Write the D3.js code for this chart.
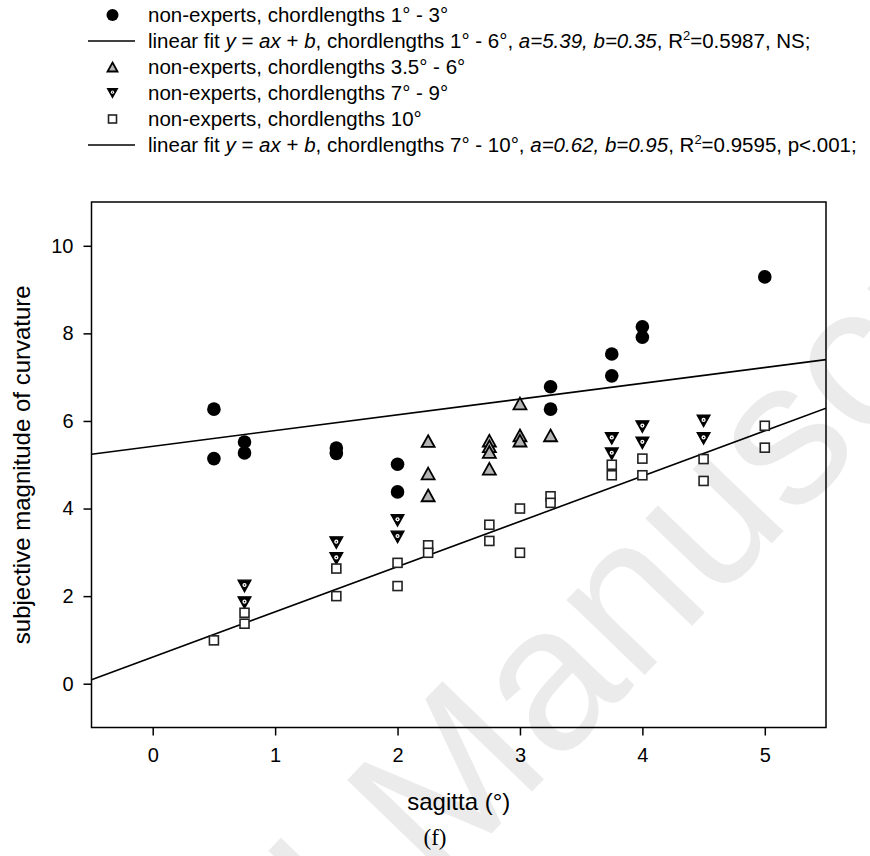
<!DOCTYPE html>
<html>
<head>
<meta charset="utf-8">
<script src="https://cdn.jsdelivr.net/npm/d3@7"></script>
<style>
  html, body { margin: 0; padding: 0; background: #fff; }
  svg { display: block; font-family: "Liberation Sans", Arial, sans-serif; }
</style>
</head>
<body>
<svg id="chart" width="870" height="856"></svg>
<script>
// ---- data ----
const circleX = [0.5, 0.5, 0.75, 0.75, 1.5, 1.5, 2, 2, 3.25, 3.25, 3.75, 3.75, 4, 4, 5];
const circleY = [6.27, 5.14, 5.52, 5.27, 5.38, 5.26, 5.01, 4.38, 6.78, 6.27, 7.53, 7.03, 8.15, 7.91, 9.29];

const triUpX = [2.25, 2.25, 2.25, 2.75, 2.75, 2.75, 2.75, 3, 3, 3, 3.25];
const triUpY = [5.54, 4.8, 4.3, 5.55, 5.42, 5.29, 4.91, 6.4, 5.67, 5.55, 5.67];

const triDownX = [0.75, 0.75, 1.5, 1.5, 2, 2, 3.75, 3.75, 4, 4, 4.5, 4.5];
const triDownY = [2.23, 1.85, 3.22, 2.86, 3.73, 3.35, 5.6, 5.25, 5.87, 5.5, 6.0, 5.6];

const squareX = [0.5, 0.75, 0.75, 1.5, 1.5, 2, 2, 2.25, 2.25, 2.75, 2.75, 3, 3, 3.25, 3.25, 3.75, 3.75, 4, 4, 4.5, 4.5, 5, 5];
const squareY = [0.99, 1.62, 1.37, 2.63, 2.0, 2.76, 2.23, 3.16, 2.99, 3.63, 3.26, 4.0, 2.99, 4.28, 4.13, 5.0, 4.76, 5.14, 4.76, 5.13, 4.63, 5.89, 5.39];

const fit1X = [-0.5, 5.5];
const fit1Y = [5.24, 7.40];
const fit2X = [-0.5, 5.5];
const fit2Y = [0.09, 6.29];

const xTicks = [0, 1, 2, 3, 4, 5];
const yTicks = [0, 2, 4, 6, 8, 10];
const xDomain = [-0.5, 5.5];
const yDomain = [-1, 11];

const xTitle = "sagitta (°)";
const yTitle = "subjective magnitude of curvature";
const panelLabel = "(f)";

// ---- layout ----
const svg = d3.select("#chart");
const L = 91.5, R = 826, T = 202, B = 727.5;
const x = d3.scaleLinear().domain(xDomain).range([L, R]);
const y = d3.scaleLinear().domain(yDomain).range([B, T]);

// watermark (faint, behind everything)
const wm = svg.append("g").attr("transform", "translate(437,890) rotate(-46)")
  .attr("fill", "#ebebeb").style("font-size", "205px");
wm.append("text").attr("x", -57).attr("text-anchor", "end").text("Accepted");
wm.append("text").attr("x", 0).text("Manuscript");

// axes
const xAxis = d3.axisBottom(x).tickValues(xTicks).tickSize(8).tickPadding(12).tickFormat(d3.format("d"));
const yAxis = d3.axisLeft(y).tickValues(yTicks).tickSize(8).tickPadding(10).tickFormat(d3.format("d"));

const gx = svg.append("g").attr("transform", `translate(0,${B})`).call(xAxis);
const gy = svg.append("g").attr("transform", `translate(${L},0)`).call(yAxis);
[gx, gy].forEach(g => {
  g.select(".domain").remove();
  g.selectAll(".tick line").attr("stroke", "#000").attr("stroke-width", 1.5);
  g.selectAll(".tick text").attr("fill", "#000").style("font-size", "20px")
    .style("font-family", "'Liberation Sans', Arial, sans-serif");
});

// frame
svg.append("rect").attr("x", L).attr("y", T).attr("width", R - L).attr("height", B - T)
  .attr("fill", "none").attr("stroke", "#000").attr("stroke-width", 1.5);

// clip
svg.append("clipPath").attr("id", "clip").append("rect")
  .attr("x", L).attr("y", T).attr("width", R - L).attr("height", B - T);

const plot = svg.append("g");

// fit lines
const line = d3.line().x(d => x(d[0])).y(d => y(d[1]));
[[fit1X, fit1Y], [fit2X, fit2Y]].forEach(([fx, fy]) => {
  plot.append("path").datum(fx.map((v, i) => [v, fy[i]]))
    .attr("d", line).attr("fill", "none").attr("stroke", "#000").attr("stroke-width", 1.6)
    .attr("clip-path", "url(#clip)");
});

// marker helpers
function triUpPath(s) { const h = s * 0.9; return `M0,${-h/2} L${s/2},${h/2} L${-s/2},${h/2} Z`; }
function triDownPath(s) { const h = s * 0.9; return `M0,${h/2} L${s/2},${-h/2} L${-s/2},${-h/2} Z`; }

function drawCircle(g, cx, cy, r) {
  g.append("circle").attr("cx", cx).attr("cy", cy).attr("r", r).attr("fill", "#000");
}
function drawTriUp(g, cx, cy, s) {
  g.append("path").attr("transform", `translate(${cx},${cy})`).attr("d", triUpPath(s))
    .attr("fill", "#b4b4b4").attr("stroke", "#000").attr("stroke-width", 1.8).attr("stroke-linejoin", "miter");
}
function drawTriDown(g, cx, cy, s) {
  g.append("path").attr("transform", `translate(${cx},${cy})`).attr("d", triDownPath(s))
    .attr("fill", "#000").attr("stroke", "#000").attr("stroke-width", 1.2);
  g.append("circle").attr("cx", cx).attr("cy", cy - s * 0.08).attr("r", s * 0.16).attr("fill", "#fff");
  g.append("circle").attr("cx", cx).attr("cy", cy - s * 0.08).attr("r", s * 0.06).attr("fill", "#000");
}
function drawSquare(g, cx, cy, s) {
  g.append("rect").attr("x", cx - s/2).attr("y", cy - s/2).attr("width", s).attr("height", s)
    .attr("fill", "#fff").attr("stroke", "#222").attr("stroke-width", 1.6);
}

// data marks
circleX.forEach((v, i) => drawCircle(plot, x(v), y(circleY[i]), 6.8));
triDownX.forEach((v, i) => drawTriDown(plot, x(v), y(triDownY[i]), 13));
squareX.forEach((v, i) => drawSquare(plot, x(v), y(squareY[i]), 9));
triUpX.forEach((v, i) => drawTriUp(plot, x(v), y(triUpY[i]), 13));

// axis titles
svg.append("text").attr("x", (L + R) / 2).attr("y", 810).attr("text-anchor", "middle")
  .style("font-size", "24px").attr("fill", "#000").text(xTitle);
svg.append("text").attr("transform", `translate(30,${(T + B) / 2}) rotate(-90)`)
  .attr("text-anchor", "middle").style("font-size", "24px").attr("fill", "#000").text(yTitle);
svg.append("text").attr("x", 435).attr("y", 845).attr("text-anchor", "middle")
  .style("font-family", "'Liberation Serif', 'Times New Roman', serif").style("font-size", "23px")
  .attr("fill", "#000").text(panelLabel);

// legend
const legendRows = [
  { type: "circle", parts: [["non-experts, chordlengths 1° - 3°", false]] },
  { type: "line", parts: [["linear fit ", false], ["y", true], [" = ", false], ["ax", true], [" + ", false], ["b", true],
      [", chordlengths 1° - 6°, ", false], ["a=5.39, b=0.35", true], [", R", false], ["2", false, true], ["=0.5987, NS;", false]] },
  { type: "triUp", parts: [["non-experts, chordlengths 3.5° - 6°", false]] },
  { type: "triDown", parts: [["non-experts, chordlengths 7° - 9°", false]] },
  { type: "square", parts: [["non-experts, chordlengths 10°", false]] },
  { type: "line", parts: [["linear fit ", false], ["y", true], [" = ", false], ["ax", true], [" + ", false], ["b", true],
      [", chordlengths 7° - 10°, ", false], ["a=0.62, b=0.95", true], [", R", false], ["2", false, true], ["=0.9595, p<.001;", false]] }
];
const legY0 = 15, legDY = 26, symX = 112.5, textX = 148;
const lg = svg.append("g");
legendRows.forEach((row, i) => {
  const cy = legY0 + i * legDY;
  if (row.type === "circle") drawCircle(lg, symX, cy, 6);
  if (row.type === "triUp") drawTriUp(lg, symX, cy, 10);
  if (row.type === "triDown") drawTriDown(lg, symX, cy, 10);
  if (row.type === "square") drawSquare(lg, symX, cy, 8);
  if (row.type === "line") lg.append("line").attr("x1", 88).attr("x2", 135).attr("y1", cy).attr("y2", cy)
    .attr("stroke", "#000").attr("stroke-width", 1.4);
  const t = lg.append("text").attr("x", textX).attr("y", cy + 7).style("font-size", "20.5px").attr("fill", "#000");
  let prevSup = false;
  row.parts.forEach(([s, it, sup]) => {
    const ts = t.append("tspan").text(s);
    if (it) ts.style("font-style", "italic");
    if (sup) { ts.attr("dy", -8).style("font-size", "13px"); }
    else if (prevSup) { ts.attr("dy", 8); }
    prevSup = !!sup;
  });
});
</script>
</body>
</html>
